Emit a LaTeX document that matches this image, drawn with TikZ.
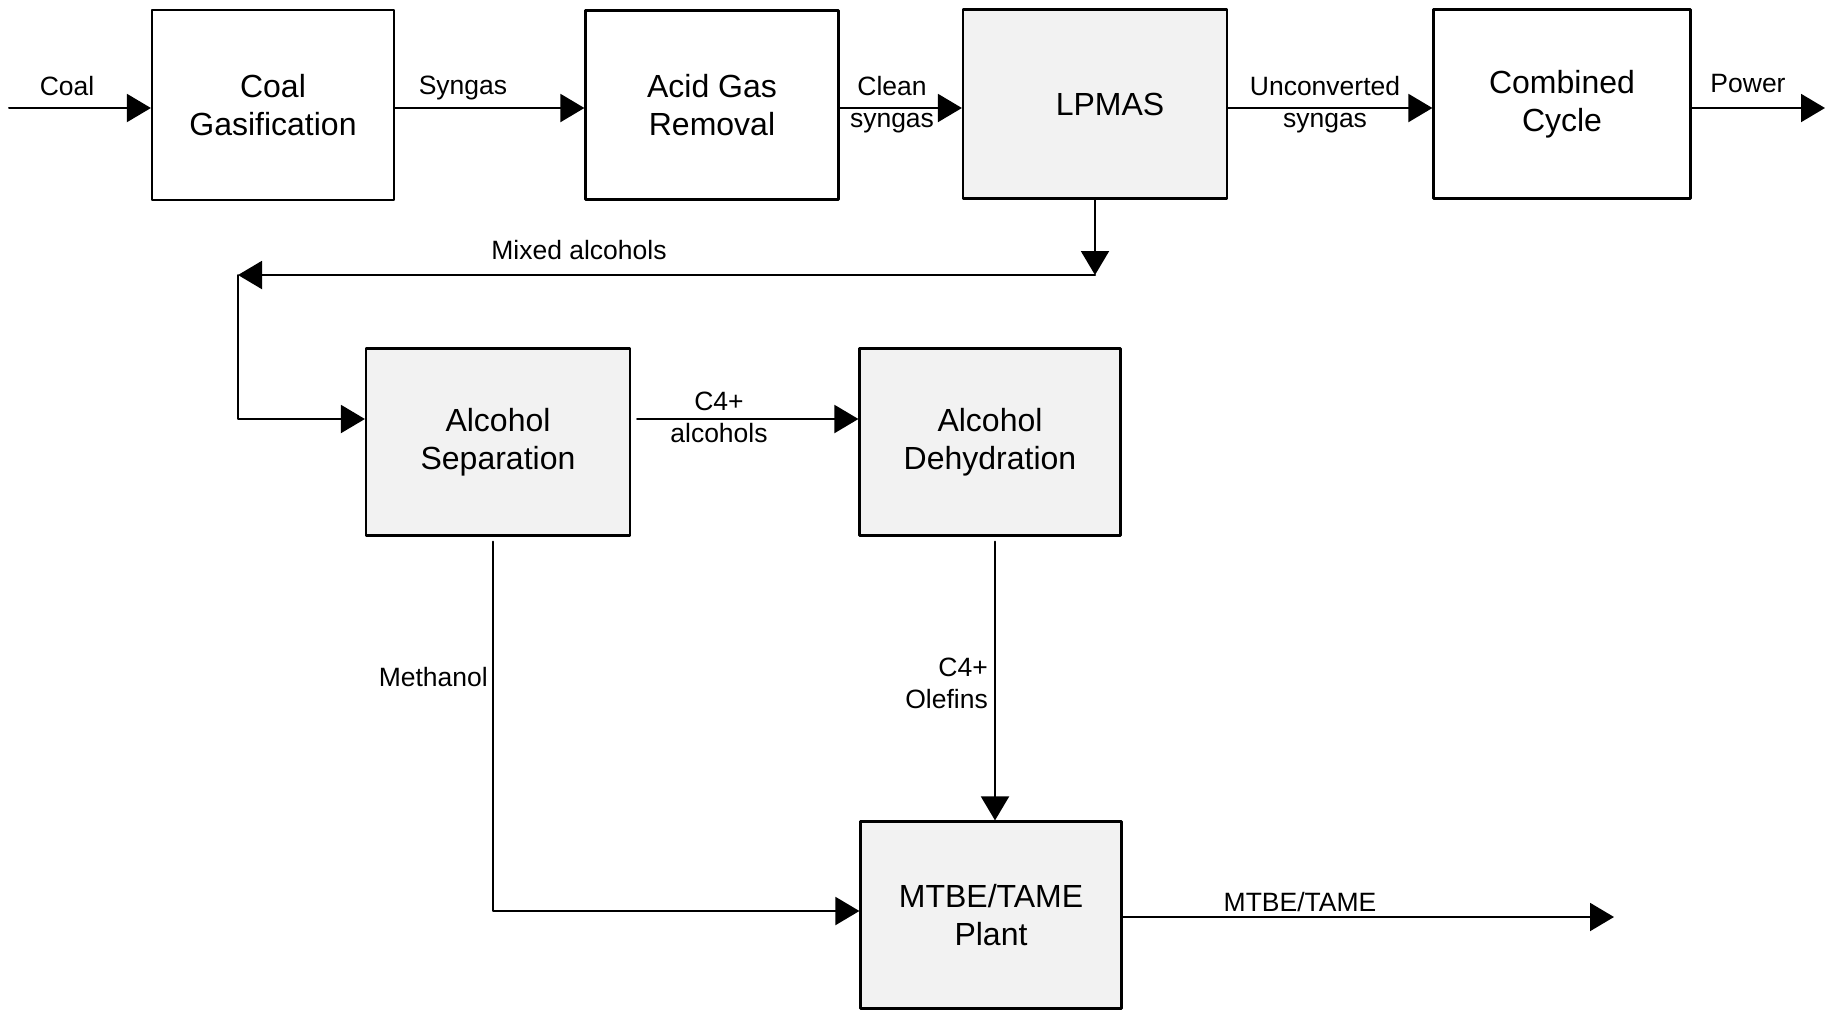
\documentclass[tikz,border=0pt]{standalone}
\usepackage{fontspec}
\setmainfont{Liberation Sans}
\usetikzlibrary{arrows.meta}

\tikzset{
  box/.style={draw,line width=2.2pt,fill=white,align=center,inner sep=0pt,
    font=\fontsize{32}{38}\selectfont},
  shadedbox/.style={box,fill=black!5},
  flow/.style={line width=2pt,-{Triangle[length=24pt,width=28pt]}},
  lbl/.style={align=center,inner sep=0pt,font=\fontsize{26.5}{32}\selectfont},
}

\begin{document}
\begin{tikzpicture}[x=1pt,y=-1pt,line cap=round,line join=round]
  \useasboundingbox (0,0) rectangle (1837,1010);

  % Boxes
  \node[box,minimum width=242pt,minimum height=190pt] (gas) at (273,105) {Coal\\Gasification};
  \node[box,minimum width=253pt,minimum height=189pt] (agr) at (712,105) {Acid Gas\\Removal};
  \node[shadedbox,minimum width=264pt,minimum height=189pt] (lpmas) at (1095,104) {\hspace*{30pt}LPMAS};
  \node[box,minimum width=257pt,minimum height=189pt] (cc) at (1562,104) {Combined\\Cycle};
  \node[shadedbox,minimum width=264pt,minimum height=187pt] (sep) at (498,442) {Alcohol\\Separation};
  \node[shadedbox,minimum width=261pt,minimum height=187pt] (dehyd) at (990,442) {Alcohol\\Dehydration};
  \node[shadedbox,minimum width=261pt,minimum height=187pt] (mtbe) at (991,915) {MTBE/TAME\\Plant};

  % Free ends and bends
  \coordinate (row) at (0,108);
  \coordinate (coalin) at (9,108);
  \coordinate (powerout) at (1825,108);
  \coordinate (mixA) at (1095,275);
  \coordinate (mixB) at (238,275);
  \coordinate (mixC) at (238,419);
  \coordinate (olef) at (995,0);
  \coordinate (meth) at (493,911);
  \coordinate (prodout) at (1614,917);

  % Flows
  \draw[flow] (coalin) -- (gas.west |- row);
  \draw[flow] (gas.east |- row) -- (agr.west |- row);
  \draw[flow] (agr.east |- row) -- (lpmas.west |- row);
  \draw[flow] (lpmas.east |- row) -- (cc.west |- row);
  \draw[flow] (cc.east |- row) -- (powerout);
  \draw[flow] (lpmas.south) -- (mixA);
  \draw[flow] (mixA) -- (mixB);
  \draw[flow] (mixB) -- (mixC) -- (mixC -| sep.west);
  \draw[flow,shorten <=6pt] (mixC -| sep.east) -- (mixC -| dehyd.west);
  \draw[flow,shorten <=5pt] (dehyd.south -| olef) -- (mtbe.north -| olef);
  \draw[flow,shorten <=5pt] (sep.south -| meth) -- (meth) -- (meth -| mtbe.west);
  \draw[flow] (mtbe.east |- prodout) -- (prodout);

  % Labels
  \node[lbl] (coallbl) at (67,86) {Coal};
  \node[lbl] (syngaslbl) at (463,88) {Syngas};
  \node[lbl] (cleanlbl) at (892,105) {Clean\\syngas};
  \node[lbl] (unconvlbl) at (1325,105) {Unconverted\\syngas};
  \node[lbl] (powerlbl) at (1748,84) {Power};
  \node[lbl] (mixlbl) at (579,250) {Mixed alcohols};
  \node[lbl] (c4alclbl) at (719,417) {C4+\\alcohols};
  \node[lbl,align=right,anchor=east] (olefinlbl) at (988,683) {C4+\\Olefins};
  \node[lbl,anchor=east] (methlbl) at (488,677) {Methanol};
  \node[lbl] (prodlbl) at (1300,902) {MTBE/TAME};
\end{tikzpicture}
\end{document}
